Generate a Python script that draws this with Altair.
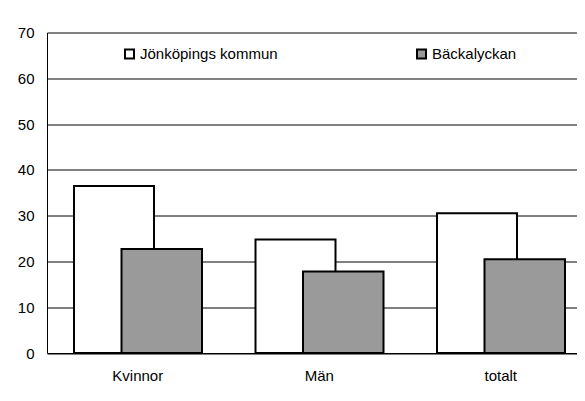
import altair as alt
import pandas as pd

categories = ["Kvinnor", "Män", "totalt"]
series = ["Jönköpings kommun", "Bäckalyckan"]
jonkoping = [36.5, 24.8, 30.5]
backalyckan = [22.7, 17.8, 20.5]

rows = []
for c, a, b in zip(categories, jonkoping, backalyckan):
    rows.append({"cat": c, "series": series[0], "value": a})
    rows.append({"cat": c, "series": series[1], "value": b})
df = pd.DataFrame(rows)

FONT = "Liberation Sans"
FS = 15

xenc = alt.X("cat:N", sort=categories, title=None,
             scale=alt.Scale(range=[0, 544.5], paddingInner=0, paddingOuter=0),
             axis=alt.Axis(labelAngle=0, ticks=False, domain=True, domainColor="black",
                           domainWidth=1, labelFont=FONT, labelFontSize=FS,
                           labelColor="black", labelPadding=15, grid=False))
yenc = alt.Y("value:Q", title=None,
             scale=alt.Scale(domain=[0, 70], nice=False),
             axis=alt.Axis(values=list(range(0, 80, 10)), ticks=False, domain=True,
                           domainColor="black", domainWidth=1, grid=True,
                           gridColor="black", gridWidth=1, gridOpacity=1,
                           labelFont=FONT, labelFontSize=FS, labelColor="black",
                           labelPadding=13))
fenc = alt.Fill("series:N", sort=series,
                scale=alt.Scale(domain=series, range=["white", "#9a9a9a"]),
                legend=alt.Legend(title=None, orient="none", legendX=75, legendY=14,
                                  direction="horizontal", symbolType="square",
                                  symbolSize=81, symbolStrokeColor="black",
                                  symbolStrokeWidth=2, labelFont=FONT,
                                  labelFontSize=FS, labelColor="black",
                                  columnPadding=135, labelOffset=3,
                                  symbolOpacity=1))

base = alt.Chart(df).encode(x=xenc, y=yenc, fill=fenc)

white = base.transform_filter(alt.datum.series == series[0]).mark_bar(
    width=80, xOffset=-23.75, stroke="black", strokeWidth=2, opacity=1)
gray = base.transform_filter(alt.datum.series == series[1]).mark_bar(
    width=80.5, xOffset=24, stroke="black", strokeWidth=2, opacity=1)

chart = alt.layer(white, gray).properties(
    width=530, height=320.5,
    autosize=alt.AutoSizeParams(type="none"),
    padding={"left": 39, "top": 24.5, "right": 0, "bottom": 40},
    background="white",
).configure_view(stroke=None)

chart.save("out.html", embed_options={"renderer": "svg", "actions": False})
